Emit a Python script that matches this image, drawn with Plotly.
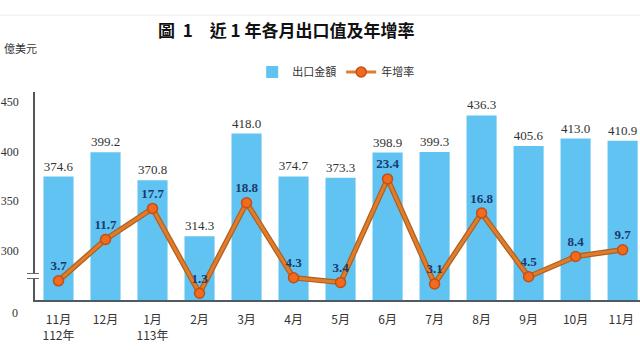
import plotly.graph_objects as go

categories = ["11月<br>112年", "12月", "1月<br>113年", "2月", "3月", "4月", "5月",
              "6月", "7月", "8月", "9月", "10月", "11月 "]
export_values = [374.6, 399.2, 370.8, 314.3, 418.0, 374.7, 373.3,
                 398.9, 399.3, 436.3, 405.6, 413.0, 410.9]
growth_rates = [3.7, 11.7, 17.7, 1.3, 18.8, 4.3, 3.4, 23.4, 3.1, 16.8, 4.5, 8.4, 9.7]
y_ticks = [300, 350, 400, 450]

SERIF = "Liberation Serif, Noto Sans CJK TC, serif"
CJK = "Noto Sans CJK TC, Liberation Serif, sans-serif"

fig = go.Figure()

fig.add_trace(go.Bar(
    x=categories, y=export_values, name="出口金額",
    marker=dict(color="#60C3F2", line=dict(width=0)),
    width=0.64,
    text=[f"{v:.1f}" for v in export_values],
    textposition="outside",
    textfont=dict(family=SERIF, size=13, color="#333333"),
    cliponaxis=False,
))

# darker outline under the growth line
fig.add_trace(go.Scatter(
    x=categories, y=growth_rates, yaxis="y2", mode="lines",
    line=dict(color="#B0601E", width=5.5), showlegend=False, hoverinfo="skip",
))
fig.add_trace(go.Scatter(
    x=categories, y=growth_rates, yaxis="y2", name="年增率",
    mode="lines+markers+text",
    line=dict(color="#E07D2C", width=3),
    marker=dict(color="#F26A1B", size=10, line=dict(color="#C0501A", width=1.5)),
    text=[f"<b>{v:.1f}</b>" for v in growth_rates],
    textposition="top center",
    textfont=dict(family=SERIF, size=13, color="#1A3A6C"),
    cliponaxis=False,
))

fig.update_layout(
    width=640, height=359,
    margin=dict(l=35, r=0, t=92, b=59, autoexpand=False),
    paper_bgcolor="white", plot_bgcolor="white",
    showlegend=True,
    legend=dict(orientation="h", x=0.497, xanchor="center",
                yref="container", y=1 - 72 / 359, yanchor="middle",
                font=dict(family=CJK, size=11, color="#333333"),
                itemwidth=30, tracegroupgap=0, bgcolor="rgba(0,0,0,0)"),
    bargap=0.36,
    xaxis=dict(
        range=[-0.5, 12.37], showgrid=False, zeroline=False, automargin=False,
        showline=True, linecolor="#4F5A63", linewidth=2,
        ticks="", tickfont=dict(family=CJK, size=12, color="#333333"),
        ticklabelstandoff=8,
    ),
    yaxis=dict(
        range=[250, 460], tickvals=y_ticks, showgrid=False, zeroline=False, automargin=False,
        showline=True, linecolor="#555555", linewidth=1.5,
        ticks="", tickfont=dict(family=SERIF, size=12, color="#333333"),
        ticklabelstandoff=12,
    ),
    yaxis2=dict(range=[0, 40.2], overlaying="y", visible=False),
)

fig.add_annotation(text="<b>圖  1　近 1 年各月出口值及年增率</b>", xref="paper", yref="paper",
                   x=0.415, y=1.30, xanchor="center", yanchor="middle", showarrow=False,
                   font=dict(family=CJK, size=17, color="#111111"))
fig.add_annotation(text="億美元", xref="paper", yref="paper", x=-0.055, y=1.21,
                   xanchor="left", yanchor="middle", showarrow=False,
                   font=dict(family=CJK, size=11, color="#333333"))
fig.add_annotation(text="0", xref="paper", yref="paper", x=0, y=0, xanchor="right",
                   yanchor="middle", xshift=-15, yshift=-13, showarrow=False,
                   font=dict(family=SERIF, size=12, color="#333333"))

# axis break marks
fig.add_shape(type="rect", xref="paper", yref="y", x0=-0.01, x1=0.01, y0=271.9, y1=276.6,
              fillcolor="white", line=dict(width=0), layer="above")
for yv in (271.7, 276.8):
    fig.add_shape(type="line", xref="paper", yref="y", x0=-0.0132, x1=0.0066, y0=yv, y1=yv,
                  line=dict(color="#666666", width=1), layer="above")
# faint page edge line at top
fig.add_shape(type="line", xref="paper", yref="paper", x0=-0.06, x1=1.0, y0=1.37, y1=1.37,
              line=dict(color="#EBEBEB", width=1))

fig.write_html("out.html", config={"displayModeBar": False},
               post_script="document.body.style.margin='0px';document.body.style.overflow='hidden';")
